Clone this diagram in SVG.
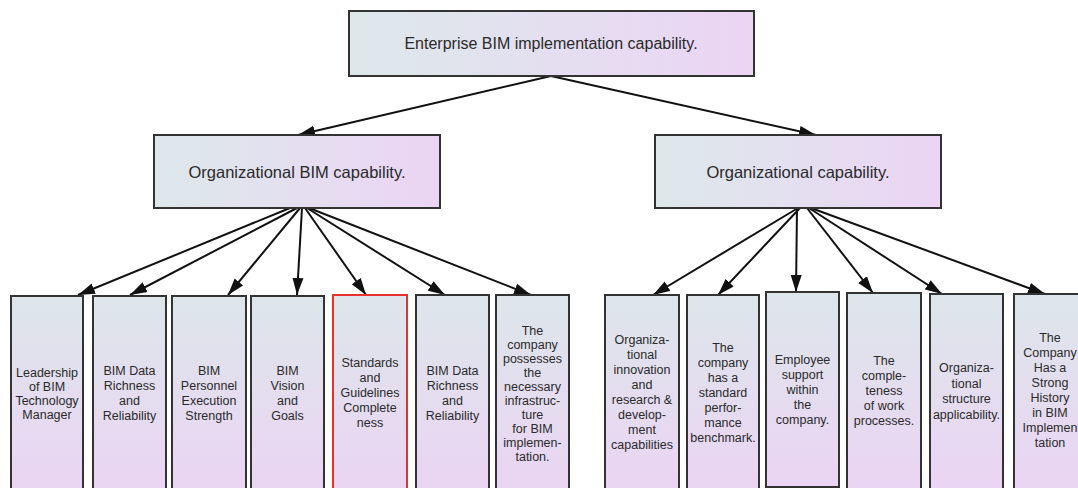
<svg xmlns="http://www.w3.org/2000/svg" width="1078" height="488" viewBox="0 0 1078 488">
<style>
.box{stroke:#333;stroke-width:2}
.h{fill:url(#hg)}
.v{fill:url(#vg)}
.red{stroke:#e8302c}
text{font-family:"Liberation Sans",Arial,sans-serif;fill:#2a2a2a;text-anchor:middle}
.big{font-size:16.5px}
.top{font-size:16px}
.sm{font-size:12.5px}
.con{stroke:#111;stroke-width:2;fill:none;marker-end:url(#arr)}
</style>
<defs>
<linearGradient id="hg" x1="0" y1="0" x2="1" y2="0">
<stop offset="0" stop-color="#dde8ea"/>
<stop offset="0.5" stop-color="#e4dff0"/>
<stop offset="1" stop-color="#ecd4f4"/>
</linearGradient>
<linearGradient id="vg" x1="0" y1="0" x2="0" y2="1">
<stop offset="0" stop-color="#dde6ea"/>
<stop offset="1" stop-color="#ebd4f4"/>
</linearGradient>
<marker id="arr" markerUnits="userSpaceOnUse" markerWidth="18" markerHeight="12" refX="17" refY="6" orient="auto">
<path d="M0,0.5 L17,6 L0,11.5 z" fill="#111"/>
</marker>
</defs>
<rect width="1078" height="488" fill="#fff"/>

<g id="connectors">
<path class="con" d="M551,76 L298,135"/>
<path class="con" d="M551,76 L816,135"/>
<path class="con" d="M290,208 L78,295"/>
<path class="con" d="M297,208 L130,295"/>
<path class="con" d="M300,208 L228,295"/>
<path class="con" d="M302,208 L297,295"/>
<path class="con" d="M305,208 L366,295"/>
<path class="con" d="M307,208 L445,295"/>
<path class="con" d="M309,208 L531,295"/>
<path class="con" d="M798,208 L653,295"/>
<path class="con" d="M800,208 L718,295"/>
<path class="con" d="M797,208 L796,292"/>
<path class="con" d="M807,208 L873,293"/>
<path class="con" d="M809,208 L942,294"/>
<path class="con" d="M811,208 L1045,294"/>
</g>

<g id="n_root">
<rect class="box h" x="349" y="11" width="405" height="65"/>
<text class="top" x="551" y="49">Enterprise BIM implementation capability.</text>
</g>
<g id="n_orgbim">
<rect class="box h" x="154" y="135" width="286" height="73"/>
<text class="big" x="297" y="177.5">Organizational BIM capability.</text>
</g>
<g id="n_org">
<rect class="box h" x="655" y="135" width="286" height="73"/>
<text class="big" x="798" y="177.5">Organizational capability.</text>
</g>

<g id="n_b1">
<rect class="box v" x="11" y="296" width="72" height="200"/>
<text class="sm"><tspan x="47" y="377">Leadership</tspan><tspan x="47" y="391">of BIM</tspan><tspan x="47" y="405">Technology</tspan><tspan x="47" y="419">Manager</tspan></text>
</g>
<g id="n_b2">
<rect class="box v" x="93" y="296" width="73" height="200"/>
<text class="sm"><tspan x="129.5" y="375">BIM Data</tspan><tspan x="129.5" y="390">Richness</tspan><tspan x="129.5" y="405">and</tspan><tspan x="129.5" y="420">Reliability</tspan></text>
</g>
<g id="n_b3">
<rect class="box v" x="172" y="296" width="74" height="200"/>
<text class="sm"><tspan x="209" y="375">BIM</tspan><tspan x="209" y="390">Personnel</tspan><tspan x="209" y="405">Execution</tspan><tspan x="209" y="420">Strength</tspan></text>
</g>
<g id="n_b4">
<rect class="box v" x="251" y="296" width="73" height="200"/>
<text class="sm"><tspan x="287.5" y="375">BIM</tspan><tspan x="287.5" y="390">Vision</tspan><tspan x="287.5" y="405">and</tspan><tspan x="287.5" y="420">Goals</tspan></text>
</g>
<g id="n_b5">
<rect class="box v red" x="333" y="295" width="74" height="200"/>
<text class="sm"><tspan x="370" y="367">Standards</tspan><tspan x="370" y="382">and</tspan><tspan x="370" y="397">Guidelines</tspan><tspan x="370" y="412">Complete</tspan><tspan x="370" y="427">ness</tspan></text>
</g>
<g id="n_b6">
<rect class="box v" x="416" y="295" width="73" height="200"/>
<text class="sm"><tspan x="452.5" y="375">BIM Data</tspan><tspan x="452.5" y="390">Richness</tspan><tspan x="452.5" y="405">and</tspan><tspan x="452.5" y="420">Reliability</tspan></text>
</g>
<g id="n_b7">
<rect class="box v" x="496" y="295" width="73" height="200"/>
<text class="sm"><tspan x="532.5" y="335">The</tspan><tspan x="532.5" y="349">company</tspan><tspan x="532.5" y="363">possesses</tspan><tspan x="532.5" y="377">the</tspan><tspan x="532.5" y="391">necessary</tspan><tspan x="532.5" y="405">infrastruc-</tspan><tspan x="532.5" y="419">ture</tspan><tspan x="532.5" y="433">for BIM</tspan><tspan x="532.5" y="447">implemen-</tspan><tspan x="532.5" y="461">tation.</tspan></text>
</g>

<g id="n_c1">
<rect class="box v" x="605" y="295" width="74" height="200"/>
<text class="sm"><tspan x="642" y="344">Organiza-</tspan><tspan x="642" y="359">tional</tspan><tspan x="642" y="374">innovation</tspan><tspan x="642" y="389">and</tspan><tspan x="642" y="404">research &amp;</tspan><tspan x="642" y="419">develop-</tspan><tspan x="642" y="434">ment</tspan><tspan x="642" y="449">capabilities</tspan></text>
</g>
<g id="n_c2">
<rect class="box v" x="687" y="295" width="72" height="200"/>
<text class="sm"><tspan x="723" y="352">The</tspan><tspan x="723" y="367">company</tspan><tspan x="723" y="382">has a</tspan><tspan x="723" y="397">standard</tspan><tspan x="723" y="412">perfor-</tspan><tspan x="723" y="427">mance</tspan><tspan x="723" y="442">benchmark.</tspan></text>
</g>
<g id="n_c3">
<rect class="box v" x="766" y="292" width="73" height="195"/>
<text class="sm"><tspan x="802.5" y="364">Employee</tspan><tspan x="802.5" y="379">support</tspan><tspan x="802.5" y="394">within</tspan><tspan x="802.5" y="409">the</tspan><tspan x="802.5" y="424">company.</tspan></text>
</g>
<g id="n_c4">
<rect class="box v" x="847" y="293" width="74" height="200"/>
<text class="sm"><tspan x="884" y="365">The</tspan><tspan x="884" y="380">comple-</tspan><tspan x="884" y="395">teness</tspan><tspan x="884" y="410">of work</tspan><tspan x="884" y="425">processes.</tspan></text>
</g>
<g id="n_c5">
<rect class="box v" x="930" y="294" width="73" height="200"/>
<text class="sm"><tspan x="966.5" y="372">Organiza-</tspan><tspan x="966.5" y="387.5">tional</tspan><tspan x="966.5" y="403">structure</tspan><tspan x="966.5" y="418.5">applicability.</tspan></text>
</g>
<g id="n_c6">
<rect class="box v" x="1014" y="294" width="73" height="200"/>
<text class="sm"><tspan x="1050" y="342">The</tspan><tspan x="1050" y="357">Company</tspan><tspan x="1050" y="372">Has a</tspan><tspan x="1050" y="387">Strong</tspan><tspan x="1050" y="402">History</tspan><tspan x="1050" y="417">in BIM</tspan><tspan x="1050" y="432">Implemen</tspan><tspan x="1050" y="447">tation</tspan></text>
</g>
</svg>
